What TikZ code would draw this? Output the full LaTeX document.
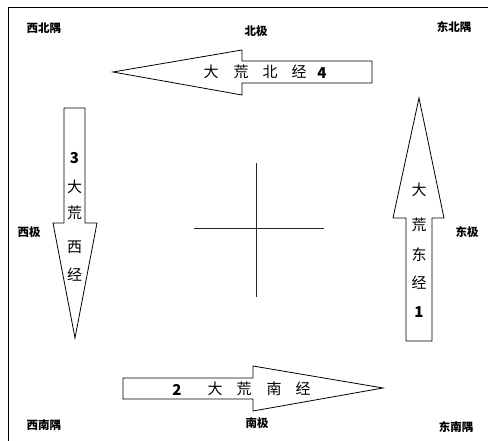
\documentclass[tikz,border=0pt]{standalone}
\usepackage{fontspec}
\newfontfamily\cjk{Noto Sans CJK SC}
\begin{document}
\begin{tikzpicture}[x=1pt,y=-1pt,
  arrowshape/.style={draw=black,line width=0.8pt,fill=white,line join=miter},
  lbl/.style={font=\cjk\bfseries\fontsize{11.5}{12}\selectfont,inner sep=0pt},
  inner/.style={font=\cjk\fontsize{15}{15}\selectfont,inner sep=0pt},
  digit/.style={font=\cjk\bfseries\fontsize{15}{15}\selectfont,inner sep=0pt},
  axis/.style={line width=0.9pt,draw=black!85}]
\useasboundingbox (0,0) rectangle (488,441);
\draw[line width=0.8pt] (8,441) -- (8,7) -- (488,7);
% corner and pole labels
\node[lbl] (nw) at (44,28) {西北隅};
\node[lbl] (n) at (256,31) {北极};
\node[lbl] (ne) at (454,27) {东北隅};
\node[lbl] (w) at (29,232) {西极};
\node[lbl] (e) at (467,232) {东极};
\node[lbl] (sw) at (44,425) {西南隅};
\node[lbl] (s) at (257,423) {南极};
\node[lbl] (se) at (456,427) {东南隅};
% arrow 4 (north, pointing west)
\draw[arrowshape] (113,72) -- (242,50) -- (242,61) -- (372,61) -- (372,83) -- (242,83) -- (242,95) -- cycle;
\node[inner] (a4a) at (211,72) {大};
\node[inner] (a4b) at (241,72) {荒};
\node[inner] (a4c) at (270,72) {北};
\node[inner] (a4d) at (299,72) {经};
\node[digit] (a4e) at (322,73) {4};
% arrow 3 (west, pointing south)
\draw[arrowshape] (64,108) -- (85,108) -- (85,223) -- (97,223) -- (75,338) -- (53,223) -- (64,223) -- cycle;
\node[digit] (a3a) at (74.5,158) {3};
\node[inner] (a3b) at (74.5,187) {大};
\node[inner] (a3c) at (74.5,213) {荒};
\node[inner] (a3d) at (74.5,247) {西};
\node[inner] (a3e) at (74.5,275) {经};
% arrow 1 (east, pointing north)
\draw[arrowshape] (419,98) -- (444,218) -- (432,218) -- (432,341) -- (406,341) -- (406,218) -- (393,218) -- cycle;
\node[inner] (a1a) at (419,190) {大};
\node[inner] (a1b) at (419,225) {荒};
\node[inner] (a1c) at (419,255) {东};
\node[inner] (a1d) at (419,283) {经};
\node[digit] (a1e) at (419,312) {1};
% arrow 2 (south, pointing east)
\draw[arrowshape] (123,378) -- (253,378) -- (253,366) -- (383,388) -- (253,411) -- (253,399) -- (123,399) -- cycle;
\node[digit] (a2a) at (177,390) {2};
\node[inner] (a2b) at (215,389) {大};
\node[inner] (a2c) at (244,389) {荒};
\node[inner] (a2d) at (274,389) {南};
\node[inner] (a2e) at (303,389) {经};
% centre cross
\coordinate (hl) at (194,228);
\coordinate (hr) at (324,228);
\coordinate (vt) at (256,163);
\coordinate (vb) at (256,297);
\draw[axis] (hl) -- (hr);
\draw[axis] (vt) -- (vb);
\end{tikzpicture}
\end{document}
